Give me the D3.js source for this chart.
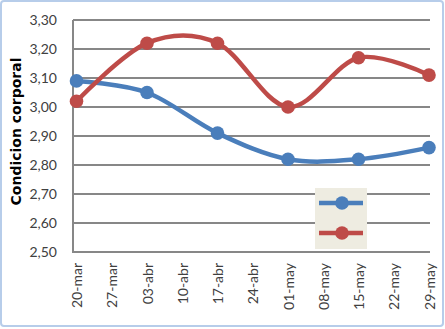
<!DOCTYPE html>
<html>
<head>
<meta charset="utf-8">
<style>
  body { margin: 0; background: #fff; }
  svg text { font-family: Lato, "Open Sans", sans-serif; }
</style>
<script src="https://d3js.org/d3.v7.min.js"></script>
</head>
<body>
<svg width="445" height="329"></svg>
<script>
  // datos
  var tickLabels = ["20-mar","27-mar","03-abr","10-abr","17-abr","24-abr","01-may","08-may","15-may","22-may","29-may"];
  var sampleDates = ["20-mar","03-abr","17-abr","01-may","15-may","29-may"];
  var serieAzul = [3.09, 3.05, 2.91, 2.82, 2.82, 2.86];
  var serieRoja = [3.02, 3.22, 3.22, 3.00, 3.17, 3.11];
  var yTicks = [2.5, 2.6, 2.7, 2.8, 2.9, 3.0, 3.1, 3.2, 3.3];

  var meses = {mar: 2, abr: 3, may: 4};
  function parseFecha(s) {
    var p = s.split("-");
    return new Date(2013, meses[p[1]], +p[0]);
  }

  var es = d3.formatLocale({decimal: ",", thousands: ".", grouping: [3], currency: ["", "€"]});
  var fmt = es.format(".2f");

  var svg = d3.select("svg");

  svg.append("rect")
    .attr("x", 1).attr("y", 1).attr("width", 442).attr("height", 325)
    .attr("rx", 3)
    .attr("fill", "#fff").attr("stroke", "#B7CDEA").attr("stroke-width", 2);

  var pLeft = 73, pRight = 430, pTop = 20, pBottom = 252;

  var x = d3.scaleTime()
    .domain([parseFecha(tickLabels[0]), parseFecha(tickLabels[tickLabels.length - 1])])
    .range([76.5, 429]);
  var y = d3.scaleLinear().domain([2.5, 3.3]).range([pBottom, pTop]);

  // lineas de division
  svg.append("g")
    .selectAll("line")
    .data(yTicks.slice(1))
    .enter().append("line")
      .attr("x1", pLeft).attr("x2", pRight)
      .attr("y1", function(d) { return y(d); })
      .attr("y2", function(d) { return y(d); })
      .attr("stroke", "#878787").attr("stroke-width", 2);

  var gy = svg.append("g")
    .attr("transform", "translate(" + pLeft + ",0)")
    .call(d3.axisLeft(y).tickValues(yTicks).tickFormat(fmt).tickSize(0).tickPadding(16));
  gy.select(".domain").remove();
  gy.selectAll("text").attr("font-size", "14px").attr("fill", "#404040");

  var gx = svg.append("g")
    .attr("transform", "translate(0," + pBottom + ")")
    .call(d3.axisBottom(x)
      .tickValues(tickLabels.map(parseFecha))
      .tickFormat(function(d, i) { return tickLabels[i]; })
      .tickSize(0));
  gx.select(".domain").remove();
  gx.selectAll("text")
    .attr("font-size", "14px").attr("fill", "#404040")
    .attr("transform", "rotate(-90)")
    .attr("text-anchor", "end")
    .attr("x", -11).attr("y", 0).attr("dy", "0.36em");

  // ejes
  svg.append("line").attr("x1", pLeft).attr("x2", pLeft).attr("y1", pTop).attr("y2", pBottom + 1)
    .attr("stroke", "#878787").attr("stroke-width", 2);
  svg.append("line").attr("x1", pLeft).attr("x2", pRight).attr("y1", pBottom).attr("y2", pBottom)
    .attr("stroke", "#878787").attr("stroke-width", 2);

  svg.append("text")
    .attr("transform", "translate(21," + 131.5 + ") rotate(-90)")
    .attr("text-anchor", "middle")
    .style("font-family", "'DejaVu Sans', sans-serif")
    .attr("font-size", "14px").attr("font-weight", "bold").attr("fill", "#000")
    .text("Condicion corporal");

  var series = [
    {valores: serieAzul, color: "#4A7EBB"},
    {valores: serieRoja, color: "#BE4B48"}
  ];

  var linea = d3.line()
    .x(function(d) { return x(d.fecha); })
    .y(function(d) { return y(d.v); })
    .curve(d3.curveCardinal.tension(0));

  series.forEach(function(s) {
    var pts = s.valores.map(function(v, i) { return {fecha: parseFecha(sampleDates[i]), v: v}; });
    svg.append("path").datum(pts)
      .attr("d", linea)
      .attr("fill", "none").attr("stroke", s.color).attr("stroke-width", 4.5)
      .attr("stroke-linejoin", "round");
    svg.append("g").selectAll("circle").data(pts).enter().append("circle")
      .attr("cx", function(d) { return x(d.fecha); })
      .attr("cy", function(d) { return y(d.v); })
      .attr("r", 6.8)
      .attr("fill", s.color);
  });

  // leyenda sin texto
  var leg = svg.append("g").attr("transform", "translate(315,188)");
  leg.append("rect").attr("width", 52).attr("height", 61).attr("fill", "#EEECE1");
  series.forEach(function(s, i) {
    var yy = 15 + i * 30;
    leg.append("line").attr("x1", 4).attr("x2", 48).attr("y1", yy).attr("y2", yy)
      .attr("stroke", s.color).attr("stroke-width", 4.5);
    leg.append("circle").attr("cx", 27).attr("cy", yy).attr("r", 6.8).attr("fill", s.color);
  });
</script>
</body>
</html>
